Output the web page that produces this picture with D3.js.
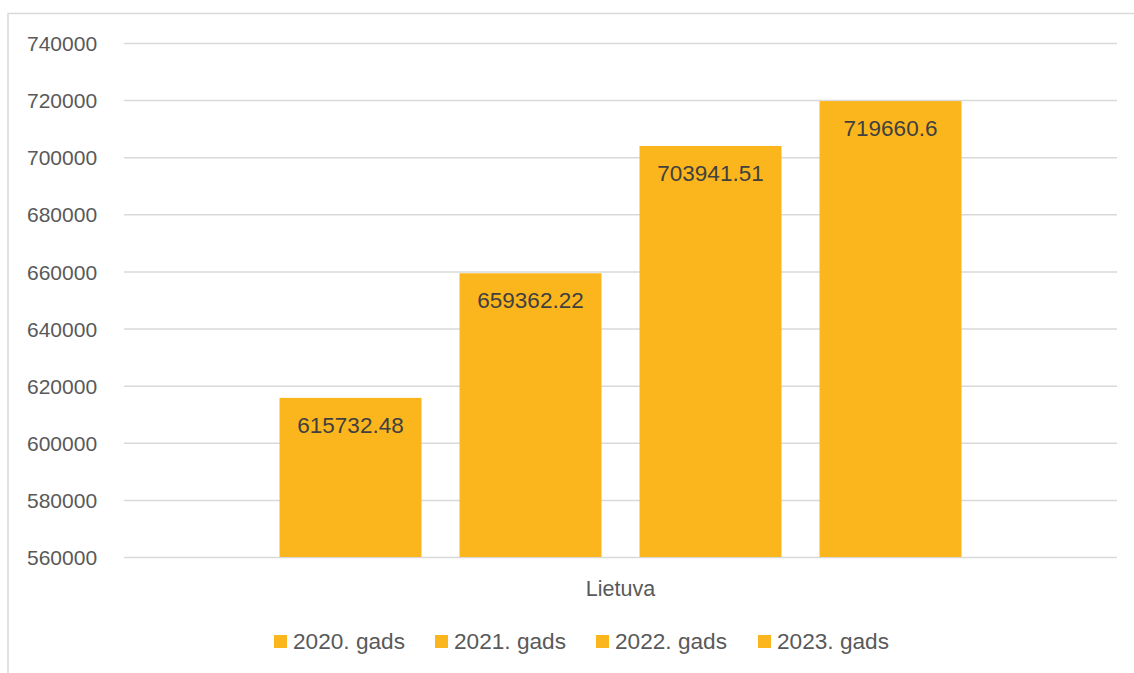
<!DOCTYPE html>
<html>
<head>
<meta charset="utf-8">
<script src="https://cdn.jsdelivr.net/npm/d3@7"></script>
<style>
  html, body { margin: 0; padding: 0; background: #fff; }
  svg { display: block; }
</style>
</head>
<body>
<svg id="chart" width="1134" height="673"></svg>
<script>
// Lietuva, yearly values
const categories = ["Lietuva"];
const seriesNames = ["2020. gads", "2021. gads", "2022. gads", "2023. gads"];
const seriesValues = [615732.48, 659362.22, 703941.51, 719660.6];
const valueLabels = ["615732.48", "659362.22", "703941.51", "719660.6"];
const yTicks = [560000, 580000, 600000, 620000, 640000, 660000, 680000, 700000, 720000, 740000];

const W = 1134, H = 673;
const barColor = "#FCB61D";
const gridColor = "#D9D9D9";
const font = "'Liberation Sans', Arial, sans-serif";
const margin = { left: 124, right: 17, top: 43, bottom: 116 };

const svg = d3.select("#chart");

// chart frame (top and left edges of the chart area)
svg.append("path")
  .attr("d", `M8,673 V13.5 H${W}`)
  .attr("fill", "none")
  .attr("stroke", gridColor)
  .attr("stroke-width", 1.5);

const x0 = d3.scaleBand()
  .domain(categories)
  .range([margin.left, W - margin.right]);

// four bars inside the category band: bar 142 px, gap 38 px
const x1 = d3.scaleBand()
  .domain(seriesNames)
  .range([0, 4 * 180 - 38])
  .paddingInner(38 / 180)
  .paddingOuter(0);

const y = d3.scaleLinear()
  .domain([560000, 740000])
  .range([H - margin.bottom, margin.top]);

// gridlines and tick labels
const yAxis = d3.axisLeft(y)
  .tickValues(yTicks)
  .tickFormat(d3.format("d"))
  .tickSize(-(W - margin.right - margin.left));

const gAxis = svg.append("g")
  .attr("transform", `translate(${margin.left},0)`)
  .call(yAxis);
gAxis.select(".domain").remove();
gAxis.selectAll(".tick line")
  .attr("stroke", gridColor)
  .attr("stroke-width", 1.5);
gAxis.selectAll(".tick text")
  .attr("fill", "#595959")
  .attr("font-family", font)
  .attr("font-size", 21)
  .attr("x", -(margin.left - 27))
  .attr("dy", "0.36em")
  .attr("text-anchor", "start");

// bars with value labels
const group = svg.append("g");
categories.forEach(cat => {
  const cx = x0(cat) + x0.bandwidth() / 2;
  const offset = cx - (x1.range()[1] - x1.range()[0]) / 2;
  seriesNames.forEach((s, i) => {
    const v = seriesValues[i];
    const bx = offset + x1(s);
    group.append("rect")
      .attr("x", bx)
      .attr("y", y(v))
      .attr("width", x1.bandwidth())
      .attr("height", y(560000) - y(v))
      .attr("fill", barColor);
    group.append("text")
      .attr("x", bx + x1.bandwidth() / 2)
      .attr("y", y(v) + 35)
      .attr("text-anchor", "middle")
      .attr("fill", "#404040")
      .attr("font-family", font)
      .attr("font-size", 22.5)
      .text(valueLabels[i]);
  });
  // category label
  svg.append("text")
    .attr("x", cx)
    .attr("y", 596)
    .attr("text-anchor", "middle")
    .attr("fill", "#595959")
    .attr("font-family", font)
    .attr("font-size", 21.5)
    .text(cat);
});

// legend
const legendX = [274, 435, 596, 758];
const legend = svg.append("g");
seriesNames.forEach((s, i) => {
  const lg = legend.append("g").attr("transform", `translate(${legendX[i]},649)`);
  lg.append("rect")
    .attr("x", 0).attr("y", -14)
    .attr("width", 13).attr("height", 13)
    .attr("fill", barColor);
  lg.append("text")
    .attr("x", 19)
    .attr("y", 0)
    .attr("fill", "#595959")
    .attr("font-family", font)
    .attr("font-size", 22)
    .attr("textLength", 112)
    .attr("lengthAdjust", "spacingAndGlyphs")
    .text(s);
});
</script>
</body>
</html>
